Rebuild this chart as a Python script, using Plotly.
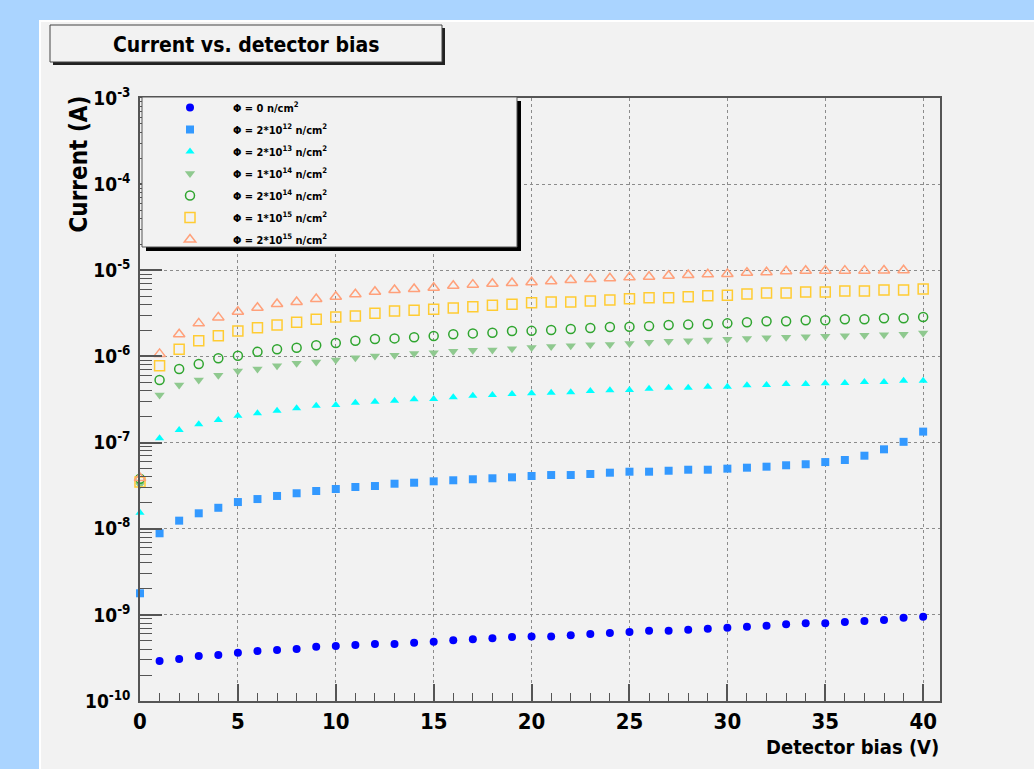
import plotly.graph_objects as go

# ---------------- data ----------------
bias_V = list(range(0, 41))

I_phi_0 = [None, 2.91e-10, 3.07e-10, 3.33e-10, 3.41e-10, 3.63e-10, 3.80e-10, 3.91e-10, 4.01e-10, 4.27e-10,
           4.35e-10, 4.47e-10, 4.58e-10, 4.58e-10, 4.74e-10, 4.88e-10, 5.06e-10, 5.20e-10, 5.35e-10, 5.53e-10,
           5.61e-10, 5.61e-10, 5.79e-10, 6.00e-10, 6.15e-10, 6.32e-10, 6.55e-10, 6.55e-10, 6.73e-10, 6.90e-10,
           7.10e-10, 7.28e-10, 7.48e-10, 7.76e-10, 7.98e-10, 7.98e-10, 8.26e-10, 8.48e-10, 8.71e-10, 9.27e-10,
           9.51e-10]
I_phi_2e12 = [1.78e-9, 8.85e-9, 1.24e-8, 1.51e-8, 1.75e-8, 2.04e-8, 2.21e-8, 2.40e-8, 2.58e-8, 2.74e-8,
              2.89e-8, 3.05e-8, 3.13e-8, 3.33e-8, 3.42e-8, 3.55e-8, 3.65e-8, 3.75e-8, 3.85e-8, 3.95e-8,
              4.09e-8, 4.20e-8, 4.20e-8, 4.32e-8, 4.47e-8, 4.59e-8, 4.59e-8, 4.71e-8, 4.84e-8, 4.84e-8,
              4.98e-8, 5.11e-8, 5.25e-8, 5.45e-8, 5.60e-8, 5.94e-8, 6.28e-8, 7.04e-8, 8.35e-8, 1.02e-7,
              1.34e-7]
I_phi_2e13 = [1.53e-8, 1.12e-7, 1.40e-7, 1.63e-7, 1.83e-7, 2.05e-7, 2.19e-7, 2.34e-7, 2.50e-7, 2.68e-7,
              2.73e-7, 2.90e-7, 2.98e-7, 3.06e-7, 3.18e-7, 3.21e-7, 3.35e-7, 3.50e-7, 3.56e-7, 3.66e-7,
              3.73e-7, 3.79e-7, 3.83e-7, 3.97e-7, 4.05e-7, 4.08e-7, 4.22e-7, 4.34e-7, 4.34e-7, 4.45e-7,
              4.45e-7, 4.62e-7, 4.66e-7, 4.79e-7, 4.79e-7, 4.88e-7, 4.91e-7, 5.05e-7, 5.05e-7, 5.23e-7,
              5.23e-7]
I_phi_1e14 = [3.21e-8, 3.56e-7, 4.66e-7, 5.32e-7, 6.04e-7, 6.78e-7, 7.14e-7, 7.80e-7, 8.32e-7, 8.61e-7,
              9.08e-7, 9.66e-7, 1.01e-6, 1.03e-6, 1.08e-6, 1.10e-6, 1.15e-6, 1.18e-6, 1.19e-6, 1.23e-6,
              1.27e-6, 1.30e-6, 1.33e-6, 1.37e-6, 1.38e-6, 1.41e-6, 1.46e-6, 1.50e-6, 1.52e-6, 1.55e-6,
              1.58e-6, 1.62e-6, 1.65e-6, 1.67e-6, 1.69e-6, 1.71e-6, 1.74e-6, 1.76e-6, 1.79e-6, 1.81e-6,
              1.87e-6]
I_phi_2e14 = [3.80e-8, 5.32e-7, 7.14e-7, 8.17e-7, 9.51e-7, 1.02e-6, 1.13e-6, 1.21e-6, 1.26e-6, 1.35e-6,
              1.43e-6, 1.52e-6, 1.59e-6, 1.62e-6, 1.67e-6, 1.73e-6, 1.81e-6, 1.85e-6, 1.88e-6, 1.97e-6,
              1.98e-6, 2.03e-6, 2.08e-6, 2.14e-6, 2.20e-6, 2.21e-6, 2.25e-6, 2.32e-6, 2.34e-6, 2.38e-6,
              2.42e-6, 2.49e-6, 2.56e-6, 2.56e-6, 2.63e-6, 2.63e-6, 2.70e-6, 2.70e-6, 2.77e-6, 2.77e-6,
              2.87e-6]
I_phi_1e15 = [3.48e-8, 7.80e-7, 1.21e-6, 1.52e-6, 1.74e-6, 1.97e-6, 2.15e-6, 2.32e-6, 2.49e-6, 2.70e-6,
              2.87e-6, 2.94e-6, 3.17e-6, 3.37e-6, 3.43e-6, 3.52e-6, 3.65e-6, 3.78e-6, 3.92e-6, 4.03e-6,
              4.21e-6, 4.29e-6, 4.29e-6, 4.40e-6, 4.52e-6, 4.68e-6, 4.81e-6, 4.81e-6, 4.93e-6, 5.07e-6,
              5.13e-6, 5.31e-6, 5.45e-6, 5.45e-6, 5.60e-6, 5.60e-6, 5.75e-6, 5.75e-6, 5.90e-6, 5.90e-6,
              6.07e-6]
I_phi_2e15 = [3.88e-8, 1.07e-6, 1.81e-6, 2.42e-6, 2.84e-6, 3.30e-6, 3.68e-6, 4.06e-6, 4.29e-6, 4.64e-6,
              4.93e-6, 5.26e-6, 5.64e-6, 5.90e-6, 6.07e-6, 6.28e-6, 6.62e-6, 6.81e-6, 6.98e-6, 7.11e-6,
              7.25e-6, 7.45e-6, 7.71e-6, 7.92e-6, 8.07e-6, 8.28e-6, 8.41e-6, 8.65e-6, 8.81e-6, 8.97e-6,
              9.06e-6, 9.38e-6, 9.48e-6, 9.73e-6, 9.89e-6, 9.90e-6, 9.90e-6, 9.90e-6, 9.95e-6, 1.00e-5,
              None]

series_names = [
    "Φ = 0 n/cm<sup>2</sup>",
    "Φ = 2*10<sup>12</sup> n/cm<sup>2</sup>",
    "Φ = 2*10<sup>13</sup> n/cm<sup>2</sup>",
    "Φ = 1*10<sup>14</sup> n/cm<sup>2</sup>",
    "Φ = 2*10<sup>14</sup> n/cm<sup>2</sup>",
    "Φ = 1*10<sup>15</sup> n/cm<sup>2</sup>",
    "Φ = 2*10<sup>15</sup> n/cm<sup>2</sup>",
]
series_values = [I_phi_0, I_phi_2e12, I_phi_2e13, I_phi_1e14, I_phi_2e14, I_phi_1e15, I_phi_2e15]

y_decades = list(range(-10, -2))
y_ticktext = ["10<sup>%d</sup>" % d for d in y_decades]
x_title = "Detector bias (V)"
y_title = "Current (A)"
chart_title = "Current vs. detector bias"

# ---------------- styles ----------------
styles = [
    dict(symbol="circle", color="#0000ff", size=8),
    dict(symbol="square", color="#3399ff", size=8),
    dict(symbol="triangle-up", color="#00ffff", size=8),
    dict(symbol="triangle-down", color="#8fc98f", size=9),
    dict(symbol="circle-open", color="#2fa52f", size=9),
    dict(symbol="square-open", color="#ffcc33", size=10),
    dict(symbol="triangle-up-open", color="#ffa07a", size=10),
]

FONT = "DejaVu Sans Condensed, Liberation Sans, Arial, sans-serif"

fig = go.Figure()
for i, (name, vals, st) in enumerate(zip(series_names, series_values, styles)):
    open_sym = st["symbol"].endswith("open")
    fig.add_trace(go.Scatter(
        x=bias_V, y=vals, mode="markers", name=name, legendgroup="g%d" % i,
        cliponaxis=False,
        marker=dict(symbol=st["symbol"], color=st["color"], size=st["size"],
                    line=dict(color=st["color"], width=1.5 if open_sym else 0)),
    ))

# geometry (px) -> paper coords
W, H = 1034, 769
L, R, T, B = 140, 94, 98, 68
pw, ph = W - L - R, H - T - B
def px(x):
    return (x - L) / pw
def py(y):
    return (H - B - y) / ph

shapes = [
    # grey canvas panel
    dict(type="rect", xref="paper", yref="paper", x0=px(40), x1=px(1100), y0=py(800), y1=py(21),
         fillcolor="#f2f2f2", line=dict(color="white", width=2), layer="below"),
    # title box shadow + box
    dict(type="rect", xref="paper", yref="paper", x0=px(53), x1=px(445), y0=py(65), y1=py(28),
         fillcolor="#222222", line=dict(width=0)),
    dict(type="rect", xref="paper", yref="paper", x0=px(50), x1=px(442), y0=py(62), y1=py(25),
         fillcolor="#f2f2f2", line=dict(color="#444444", width=1)),
    # legend box shadow + box
    dict(type="rect", xref="paper", yref="paper", x0=px(146), x1=px(521), y0=py(251), y1=py(101),
         fillcolor="#000000", line=dict(width=0), layer="above"),
    dict(type="rect", xref="paper", yref="paper", x0=px(142), x1=px(517), y0=py(247), y1=py(97),
         fillcolor="#f2f2f2", line=dict(color="#555555", width=1), layer="above"),
]

annotations = [
    dict(text="<b>" + chart_title + "</b>", xref="paper", yref="paper", x=px(246), y=py(45),
         xanchor="center", yanchor="middle", showarrow=False,
         font=dict(family=FONT, size=21, color="black")),
    dict(text="<b>" + x_title + "</b>", xref="paper", yref="paper", x=px(941), y=py(747),
         xanchor="right", yanchor="middle", showarrow=False,
         font=dict(family=FONT, size=20, color="black")),
    dict(text="<b>" + y_title + "</b>", xref="paper", yref="paper", x=px(78), y=py(94),
         xanchor="center", yanchor="top", textangle=-90, showarrow=False,
         font=dict(family=FONT, size=24, color="black")),
]

minor_y = [k * 10.0 ** d for d in range(-10, -3) for k in range(2, 10)]

fig.update_layout(
    width=W, height=H,
    margin=dict(l=L, r=R, t=T, b=B, pad=0),
    paper_bgcolor="#aad4ff",
    plot_bgcolor="#f2f2f2",
    shapes=shapes,
    annotations=annotations,
    showlegend=True,
    legend=dict(x=px(147), y=py(93), xanchor="left", yanchor="top",
                bgcolor="rgba(0,0,0,0)", borderwidth=0, tracegroupgap=3,
                itemwidth=76,
                font=dict(family=FONT, size=11, color="black", weight="bold")),
    xaxis=dict(range=[0, 40.86], tickmode="linear", tick0=0, dtick=5,
               ticks="inside", ticklen=17, tickwidth=1.5, tickcolor="#555555",
               showline=True, linecolor="#555555", linewidth=1.5, mirror=True,
               showgrid=True, gridcolor="#8c8c8c", griddash="dot", gridwidth=1,
               zeroline=False,
               tickfont=dict(family=FONT, size=22, color="black", weight="bold"),
               minor=dict(dtick=1, tick0=0, ticks="inside", ticklen=8, tickwidth=1,
                          tickcolor="#555555", showgrid=False)),
    yaxis=dict(type="log", range=[-10, -3],
               tickmode="array", tickvals=[10.0 ** d for d in y_decades], ticktext=y_ticktext,
               ticks="inside", ticklen=22, tickwidth=1.5, tickcolor="#555555",
               showline=True, linecolor="#555555", linewidth=1.5, mirror=True,
               showgrid=True, gridcolor="#8c8c8c", griddash="dot", gridwidth=1,
               zeroline=False, ticklabelstandoff=4,
               tickfont=dict(family=FONT, size=19, color="black", weight="bold"),
               minor=dict(tickmode="array", tickvals=minor_y, ticks="inside", ticklen=12,
                          tickwidth=1, tickcolor="#555555", showgrid=False)),
)

fig.write_html("out.html", config={"displayModeBar": False},
               post_script="document.body.style.margin='0';")
